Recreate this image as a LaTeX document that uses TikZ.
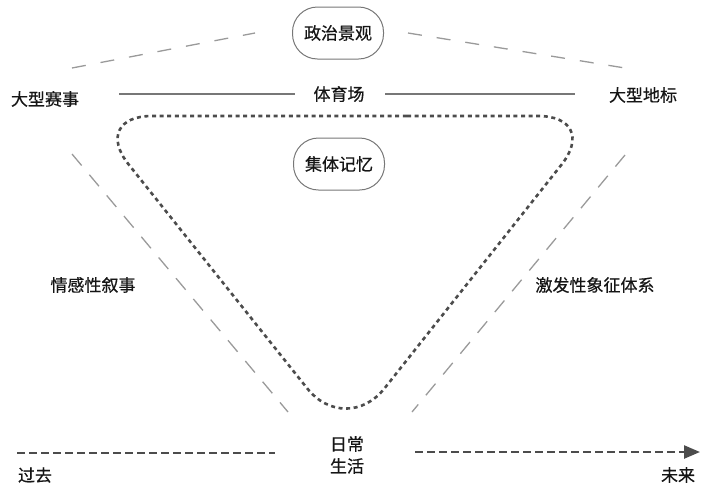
\documentclass[tikz,border=0pt]{standalone}
\usepackage{fontspec}
\newfontfamily\cjk[FakeBold=0.6]{Noto Sans CJK SC}
\usetikzlibrary{arrows.meta}
\definecolor{txtc}{HTML}{151515}
\definecolor{solidc}{HTML}{777777}
\definecolor{lightc}{HTML}{9A9A9A}
\definecolor{darkc}{HTML}{4C4C4C}
\begin{document}
\begin{tikzpicture}[x=1pt,y=-1pt,
  font=\cjk\fontsize{17}{22}\selectfont,
  lbl/.style={text=txtc, inner sep=1pt, align=center},
  pill/.style={lbl, draw=solidc, line width=1pt, rounded corners=25pt, minimum width=91pt, minimum height=52pt},
  solidline/.style={draw=solidc, line width=1.8pt},
  lightdash/.style={draw=lightc, line width=1.3pt, dash pattern=on 14pt off 15pt},
  diagdash/.style={draw=lightc, line width=1.3pt, dash pattern=on 15pt off 12pt},
  dotline/.style={draw=darkc, line width=2.6pt, dash pattern=on 4pt off 3.6pt},
  timeline/.style={draw=darkc, line width=2.4pt, dash pattern=on 8pt off 4pt}
]
\useasboundingbox (0,0) rectangle (702,483);

% labels
\node[pill] (zz) at (338,33) {政治景观};
\node[pill] (jt) at (339,164) {集体记忆};
\node[lbl] (ss) at (45,99) {大型赛事};
\node[lbl] (tyc) at (339,94) {体育场};
\node[lbl] (db) at (643,95) {大型地标};
\node[lbl] (qg) at (93,285) {情感性叙事};
\node[lbl] (jf) at (595,285) {激发性象征体系};
\node[lbl] (rc) at (347,455) {日常\\生活};
\node[lbl] (gq) at (35,475) {过去};
\node[lbl] (wl) at (678,475) {未来};

% coordinates for free line ends
\coordinate (s1a) at (119,94);
\coordinate (s1b) at (295,94);
\coordinate (s2a) at (385,94);
\coordinate (s2b) at (575,94);
\coordinate (d1a) at (72,68);
\coordinate (d1b) at (255,33);
\coordinate (d2a) at (408,33);
\coordinate (d2b) at (625,68);
\coordinate (g1a) at (72,154);
\coordinate (g1b) at (288,412);
\coordinate (g2a) at (625,155);
\coordinate (g2b) at (412,412);
\coordinate (t1a) at (17,453);
\coordinate (t1b) at (275,453);
\coordinate (t2a) at (415,452);
\coordinate (t2b) at (700,452);
\coordinate (triA) at (90,116);
\coordinate (triB) at (600,116);
\coordinate (triC) at (346,437);
\coordinate (triM) at (345,116);

% solid lines
\draw[solidline] (s1a) -- (s1b);
\draw[solidline] (s2a) -- (s2b);

% light dashed lines
\draw[lightdash] (d1a) -- (d1b);
\draw[lightdash] (d2a) -- (d2b);
\draw[diagdash] (g1a) -- (g1b);
\draw[diagdash] (g2a) -- (g2b);

% dotted rounded triangle
\draw[dotline, rounded corners=62pt] (triM) -- (triB) -- (triC) -- (triA) -- cycle;

% time line
\draw[timeline] (t1a) -- (t1b);
\draw[timeline, -{Triangle[length=16pt,width=13pt]}] (t2a) -- (t2b);

\end{tikzpicture}
\end{document}
